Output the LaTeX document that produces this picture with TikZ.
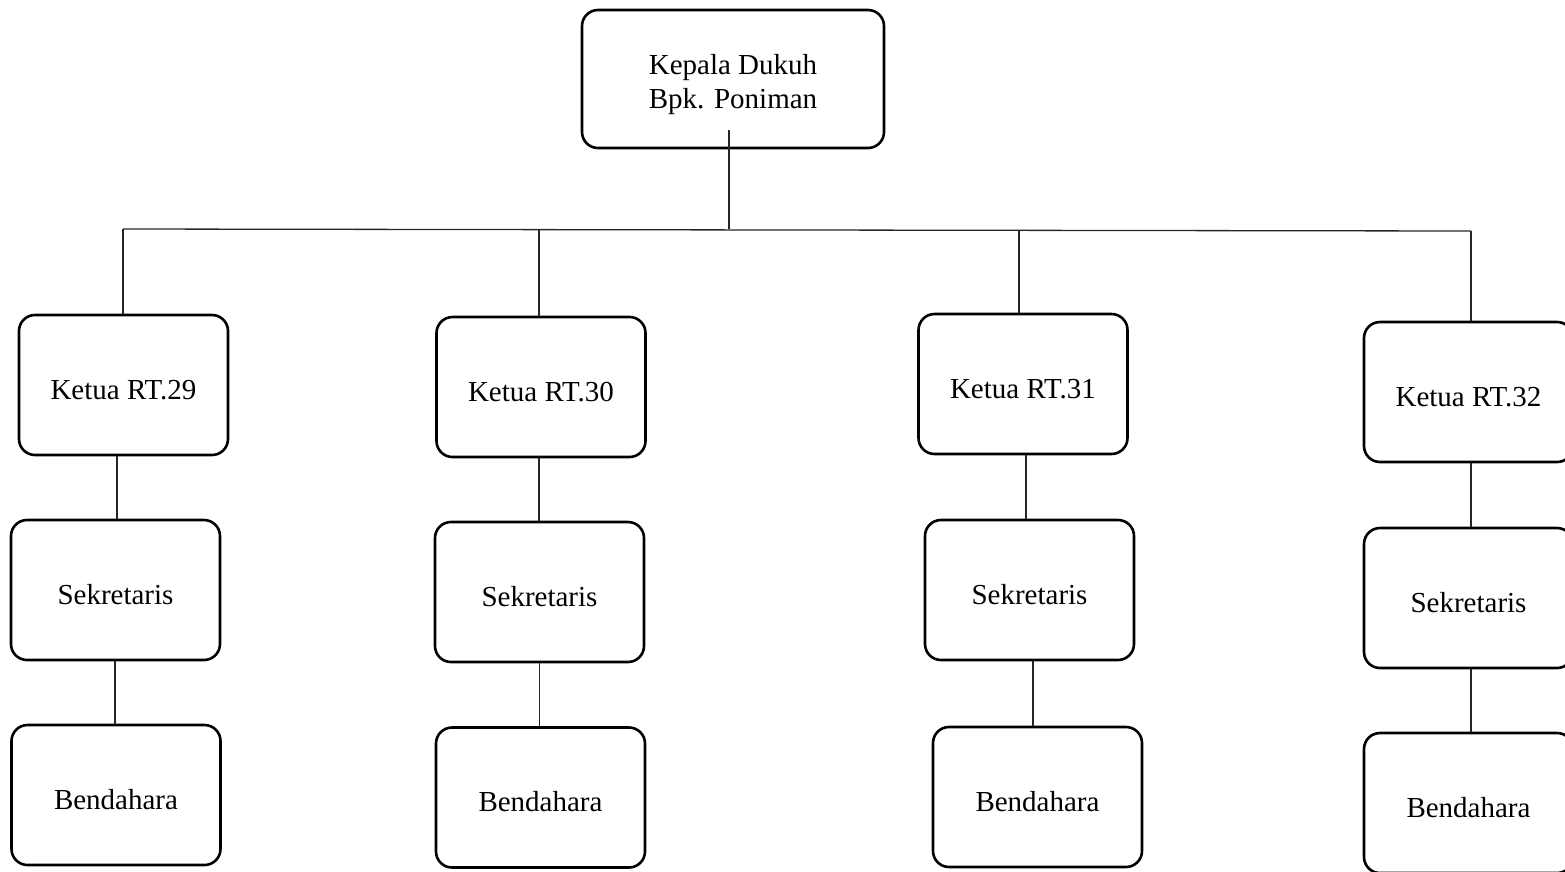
\documentclass[tikz,border=0pt]{standalone}
\usepackage{fontspec}
\setmainfont{Liberation Serif}
\begin{document}
\begin{tikzpicture}[x=1pt,y=-1pt,
  orgbox/.style={draw=black,line width=2.6pt,rounded corners=16pt,minimum width=209pt,minimum height=140pt,inner sep=0pt,align=center,text height=28pt,text depth=0pt,font=\fontsize{29}{34}\selectfont},
  link/.style={draw=black!85,line width=1.3pt}]
\useasboundingbox (0,0) rectangle (1565,871);
% top
\node[orgbox,minimum width=302pt,minimum height=138pt,text height=65pt,text depth=6pt] (top) at (733,79) {Kepala Dukuh\\Bpk. Poniman};
% row 1
\node[orgbox] (r29) at (123.5,385) {Ketua RT.29};
\node[orgbox] (r30) at (541,387) {Ketua RT.30};
\node[orgbox] (r31) at (1023,384) {Ketua RT.31};
\node[orgbox] (r32) at (1468.5,392) {Ketua RT.32};
% row 2
\node[orgbox] (s29) at (115.5,590) {Sekretaris};
\node[orgbox] (s30) at (539.5,592) {Sekretaris};
\node[orgbox] (s31) at (1029.5,590) {Sekretaris};
\node[orgbox] (s32) at (1468.5,598) {Sekretaris};
% row 3
\node[orgbox] (b29) at (116,795) {Bendahara};
\node[orgbox] (b30) at (540.5,797.5) {Bendahara};
\node[orgbox] (b31) at (1037.5,797) {Bendahara};
\node[orgbox] (b32) at (1468.5,803) {Bendahara};
% bus
\coordinate (tstart) at (729,130);
\coordinate (bus) at (729,229);
\coordinate (busL) at (123,229);
\coordinate (busR) at (1471,231);
\draw[link] (tstart) -- (bus);
\draw[link] (busL) -- (busR);
\draw[link] (busL) -- (r29.north -| busL);
\draw[link] (539,230) -- (r30.north -| 539,0);
\draw[link] (1019,230) -- (r31.north -| 1019,0);
\draw[link] (busR) -- (r32.north -| busR);
% chains
\draw[link] (r29.south -| 117,0) -- (s29.north -| 117,0);
\draw[link] (s29.south -| 115,0) -- (b29.north -| 115,0);
\draw[link] (r30.south -| 539,0) -- (s30.north -| 539,0);
\draw[link] (s30.south -| 539.5,0) -- (b30.north -| 539.5,0);
\draw[link] (r31.south -| 1026,0) -- (s31.north -| 1026,0);
\draw[link] (s31.south -| 1033,0) -- (b31.north -| 1033,0);
\draw[link] (r32.south -| 1471,0) -- (s32.north -| 1471,0);
\draw[link] (s32.south -| 1471,0) -- (b32.north -| 1471,0);
\end{tikzpicture}
\end{document}
